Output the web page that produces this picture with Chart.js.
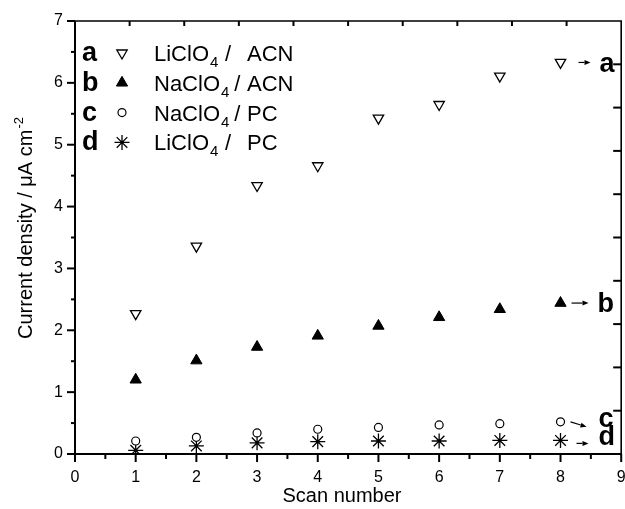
<!DOCTYPE html>
<html>
<head>
<meta charset="utf-8">
<script src="https://cdn.jsdelivr.net/npm/chart.js@4.4.1/dist/chart.umd.min.js"></script>
<style>
  html, body { margin: 0; padding: 0; background: #fff; overflow: hidden; }
  /* a few px wider than the window: the "9" label is clipped at the edge like the original */
  #wrap { width: 630px; height: 509px; }
</style>
</head>
<body>
<div id="wrap"><canvas id="chart"></canvas></div>
<script>
// Scan number vs current density
const scans = [1, 2, 3, 4, 5, 6, 7, 8];
const liclo4Acn = [2.27, 3.36, 4.34, 4.66, 5.43, 5.65, 6.11, 6.33];
const naclo4Acn = [1.20, 1.51, 1.73, 1.91, 2.07, 2.21, 2.34, 2.44];
const naclo4Pc = [0.21, 0.27, 0.34, 0.40, 0.43, 0.47, 0.49, 0.52];
const liclo4Pc = [0.06, 0.13, 0.18, 0.20, 0.21, 0.21, 0.22, 0.22];

const seriesLetters = ["a", "b", "c", "d"];
const saltNames = ["LiClO", "NaClO", "NaClO", "LiClO"];
const solventNames = ["ACN", "ACN", "PC", "PC"];

const xTitle = "Scan number";
const yTitle = "Current density / \u03bcA cm";
const yTitleSup = "-2";

const FONT = "'Liberation Sans', Arial, sans-serif";

const toPoints = (vals) => vals.map((v, i) => ({ x: scans[i], y: v }));

// marker styles per series
const markers = [
  { pointStyle: "triangle", rotation: 180, radius: 6, backgroundColor: "#fff", borderColor: "#000", borderWidth: 1.3 },
  { pointStyle: "triangle", rotation: 0, radius: 6.5, backgroundColor: "#000", borderColor: "#000", borderWidth: 1 },
  { pointStyle: "circle", rotation: 0, radius: 4, backgroundColor: "#fff", borderColor: "#000", borderWidth: 1.2 },
  { pointStyle: "star", rotation: 0, radius: 7.5, backgroundColor: "#000", borderColor: "#000", borderWidth: 1.3 },
];

// end-of-series arrow + letter placement (pixel offsets from last point)
const endLabels = [
  { ax0: 18, ax1: 30, ay0: 0, ay1: 0, lx: 39, ly: 10 },
  { ax0: 11, ax1: 28, ay0: 0, ay1: 0, lx: 37, ly: 9 },
  { ax0: 10, ax1: 26, ay0: 0, ay1: 5, lx: 38, ly: 5 },
  { ax0: 16, ax1: 28, ay0: 3, ay1: 3, lx: 38, ly: 5 },
];

function drawMarker(ctx, m, x, y) {
  ctx.save();
  ctx.fillStyle = m.backgroundColor;
  ctx.strokeStyle = m.borderColor;
  ctx.lineWidth = m.borderWidth;
  Chart.helpers.drawPoint(ctx, m, x, y);
  ctx.restore();
}

function arrow(ctx, x0, y0, x1, y1) {
  const ang = Math.atan2(y1 - y0, x1 - x0);
  const head = 6;
  ctx.beginPath();
  ctx.moveTo(x0, y0);
  ctx.lineTo(x1 - Math.cos(ang) * head, y1 - Math.sin(ang) * head);
  ctx.lineWidth = 1.2;
  ctx.stroke();
  ctx.beginPath();
  ctx.moveTo(x1, y1);
  ctx.lineTo(x1 - Math.cos(ang) * head - Math.sin(ang) * 2.5, y1 - Math.sin(ang) * head + Math.cos(ang) * 2.5);
  ctx.lineTo(x1 - Math.cos(ang) * head + Math.sin(ang) * 2.5, y1 - Math.sin(ang) * head - Math.cos(ang) * 2.5);
  ctx.closePath();
  ctx.fill();
}

const framePlugin = {
  id: "frame",
  afterDraw(chart) {
    const { ctx, chartArea: a, scales } = chart;
    const xs = scales.x, ys = scales.y;
    ctx.save();
    ctx.strokeStyle = "#000";
    ctx.fillStyle = "#000";

    // box
    ctx.lineWidth = 2;
    ctx.beginPath();
    ctx.moveTo(a.left, a.top);
    ctx.lineTo(a.left, a.bottom);
    ctx.lineTo(a.right, a.bottom);
    ctx.stroke();
    ctx.lineWidth = 1.6;
    ctx.beginPath();
    ctx.moveTo(a.left, a.top);
    ctx.lineTo(a.right, a.top);
    ctx.lineTo(a.right, a.bottom);
    ctx.stroke();

    // left ticks (outward), majors + halves
    ctx.lineWidth = 2;
    for (let v = 0; v <= 7.001; v += 0.5) {
      const y = ys.getPixelForValue(v);
      const len = Number.isInteger(v) ? 8 : 4;
      ctx.beginPath(); ctx.moveTo(a.left - len, y); ctx.lineTo(a.left, y); ctx.stroke();
    }
    // bottom ticks (outward)
    for (let v = 0; v <= 9.001; v += 0.5) {
      const x = xs.getPixelForValue(v);
      const len = Number.isInteger(v) ? 8 : 5;
      ctx.beginPath(); ctx.moveTo(x, a.bottom); ctx.lineTo(x, a.bottom + len); ctx.stroke();
    }
    // mirrored top / right axes keep Origin's default 0-10 ticks (inward)
    for (let k = 1; k < 10; k++) {
      const x = a.left + (a.right - a.left) * k / 10;
      ctx.beginPath(); ctx.moveTo(x, a.top); ctx.lineTo(x, a.top + 5); ctx.stroke();
      const y = a.bottom - (a.bottom - a.top) * k / 10;
      ctx.beginPath(); ctx.moveTo(a.right, y); ctx.lineTo(a.right - 8, y); ctx.stroke();
    }

    // axis titles (y one has a real superscript)
    ctx.textBaseline = "alphabetic";
    ctx.font = "20px " + FONT;
    ctx.textAlign = "center";
    ctx.fillText(xTitle, 342, 502);
    ctx.save();
    ctx.translate(32, 228);
    ctx.rotate(-Math.PI / 2);
    ctx.textAlign = "left";
    const wMain = ctx.measureText(yTitle).width;
    ctx.font = "13px " + FONT;
    const wSup = ctx.measureText(yTitleSup).width;
    const x0 = -(wMain + wSup + 1) / 2;
    ctx.font = "20px " + FONT;
    ctx.fillText(yTitle, x0, 0);
    ctx.font = "13px " + FONT;
    ctx.fillText(yTitleSup, x0 + wMain + 1, -9);
    ctx.restore();

    // legend block
    ctx.textAlign = "left";
    seriesLetters.forEach((letter, i) => {
      const base = 61 + i * 29.8;
      ctx.font = "bold 27px " + FONT;
      ctx.fillText(letter, 82, base);
      drawMarker(ctx, markers[i], 122, base - 8);
      ctx.font = "22px " + FONT;
      ctx.fillText(saltNames[i], 154, base);
      const w = ctx.measureText(saltNames[i]).width;
      ctx.font = "15px " + FONT;
      const subX = 154 + w + 1;
      ctx.fillText("4", subX, base + 6);
      const subW = ctx.measureText("4").width;
      ctx.font = "22px " + FONT;
      ctx.fillText("/", Math.max(225, subX + subW + 5), base);
      ctx.fillText(solventNames[i], 247, base);
    });

    // arrows and letters at the end of each series
    chart.data.datasets.forEach((ds, i) => {
      const last = ds.data[ds.data.length - 1];
      const px = xs.getPixelForValue(last.x);
      const py = ys.getPixelForValue(last.y);
      const e = endLabels[i];
      arrow(ctx, px + e.ax0, py + e.ay0, px + e.ax1, py + e.ay1);
      ctx.font = "bold 27px " + FONT;
      ctx.fillText(seriesLetters[i], px + e.lx, py + e.ly);
    });
    ctx.restore();
  },
};

const series = [liclo4Acn, naclo4Acn, naclo4Pc, liclo4Pc];

new Chart(document.getElementById("chart"), {
  type: "scatter",
  data: {
    datasets: series.map((vals, i) => ({
      label: seriesLetters[i],
      data: toPoints(vals),
      showLine: false,
      pointStyle: markers[i].pointStyle,
      rotation: markers[i].rotation,
      pointRadius: markers[i].radius,
      pointHoverRadius: markers[i].radius,
      backgroundColor: markers[i].backgroundColor,
      borderColor: markers[i].borderColor,
      borderWidth: markers[i].borderWidth,
    })),
  },
  options: {
    responsive: true,
    maintainAspectRatio: false,
    animation: false,
    events: [],
    layout: { padding: { top: 21, right: 3, left: 0, bottom: 0 } },
    plugins: {
      legend: { display: false },
      tooltip: { enabled: false },
    },
    scales: {
      x: {
        type: "linear",
        min: 0,
        max: 9,
        grid: { display: false, drawTicks: false },
        border: { display: false },
        afterFit: (s) => { s.height = 55; s.paddingLeft = 0; s.paddingRight = 0; },
        ticks: {
          stepSize: 1,
          color: "#000",
          padding: 16,
          font: { family: FONT, size: 16, lineHeight: 1 },
        },
        title: { display: false },
      },
      y: {
        type: "linear",
        min: 0,
        max: 7,
        grid: { display: false, drawTicks: false },
        border: { display: false },
        afterFit: (s) => { s.width = 75; s.paddingTop = 0; s.paddingBottom = 0; },
        ticks: {
          stepSize: 1,
          color: "#000",
          padding: 12,
          font: { family: FONT, size: 16, lineHeight: 1 },
        },
        title: { display: false },
      },
    },
  },
  plugins: [framePlugin],
});
</script>
</body>
</html>
